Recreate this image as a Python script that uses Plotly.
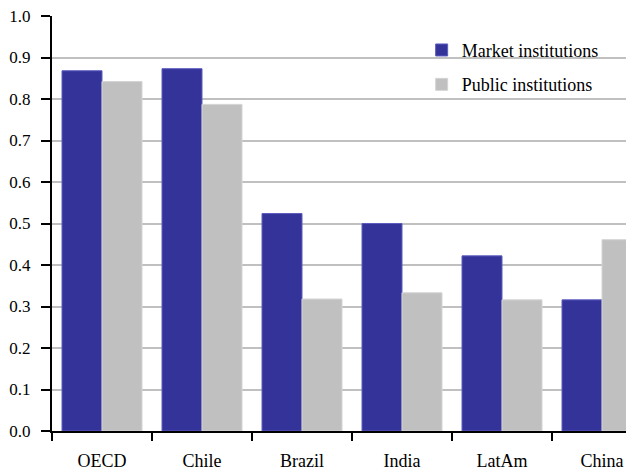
import plotly.graph_objects as go

categories = ["OECD", "Chile", "Brazil", "India", "LatAm", "China"]
market = [0.868, 0.873, 0.524, 0.500, 0.422, 0.316]
public = [0.842, 0.787, 0.318, 0.333, 0.316, 0.461]
y_ticks = [0.0, 0.1, 0.2, 0.3, 0.4, 0.5, 0.6, 0.7, 0.8, 0.9, 1.0]

FONT = "Liberation Serif"

fig = go.Figure()
fig.add_trace(go.Bar(x=categories, y=market, name="Market institutions",
                     marker=dict(color="#333399", line=dict(color="#5c5cc0", width=1)),
                     legendgroup="a"))
fig.add_trace(go.Bar(x=categories, y=public, name="Public institutions",
                     marker=dict(color="#c0c0c0", line=dict(color="#d4d4d4", width=1)),
                     legendgroup="b"))

fig.update_layout(
    width=626, height=471,
    margin=dict(l=52, r=0, t=16, b=40, autoexpand=False),
    paper_bgcolor="white", plot_bgcolor="white",
    font=dict(family=FONT, size=18, color="black"),
    barmode="group", bargap=0.2, bargroupgap=0,
    showlegend=True,
    legend=dict(x=0.644, y=0.962, xanchor="left", yanchor="top",
                bgcolor="rgba(0,0,0,0)", font=dict(family=FONT, size=18),
                traceorder="grouped", tracegroupgap=8,
                itemwidth=30),
    xaxis=dict(range=[-0.5, 5.24], showgrid=False, showline=True,
               linecolor="black", linewidth=2, ticks="outside",
               tickson="boundaries", ticklen=8, tickwidth=2, tickcolor="black",
               ticklabelstandoff=12, automargin=False, fixedrange=True,
               tickfont=dict(size=18)),
    yaxis=dict(range=[0, 1.0], tickvals=y_ticks,
               ticktext=[f"{v:.1f}" for v in y_ticks],
               showgrid=True, gridcolor="#c0c0c0", gridwidth=2,
               showline=True, linecolor="black", linewidth=2,
               ticks="outside", ticklen=9, tickwidth=2, tickcolor="black",
               ticklabelstandoff=7, zeroline=False, automargin=False,
               tickfont=dict(size=17)),
)

fig.write_html("out.html",
               config={"displayModeBar": False},
               post_script="document.body.style.margin='0px';document.body.style.padding='0px';")
